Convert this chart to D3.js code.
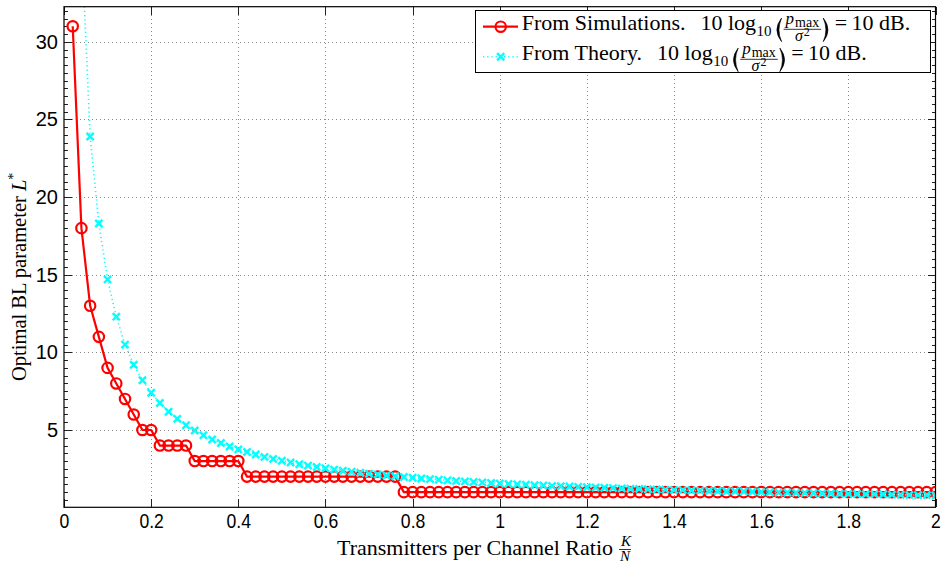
<!DOCTYPE html>
<html><head><meta charset="utf-8">
<script src="https://cdn.jsdelivr.net/npm/d3@7"></script>
<style>body{margin:0;background:#fff} svg{display:block}</style>
</head><body>
<script>
// ---------------- DATA ----------------
const kOverN = [
0.02,0.04,0.06,0.08,0.10,0.12,0.14,0.16,0.18,0.20,
0.22,0.24,0.26,0.28,0.30,0.32,0.34,0.36,0.38,0.40,
0.42,0.44,0.46,0.48,0.50,0.52,0.54,0.56,0.58,0.60,
0.62,0.64,0.66,0.68,0.70,0.72,0.74,0.76,0.78,0.80,
0.82,0.84,0.86,0.88,0.90,0.92,0.94,0.96,0.98,1.00,
1.02,1.04,1.06,1.08,1.10,1.12,1.14,1.16,1.18,1.20,
1.22,1.24,1.26,1.28,1.30,1.32,1.34,1.36,1.38,1.40,
1.42,1.44,1.46,1.48,1.50,1.52,1.54,1.56,1.58,1.60,
1.62,1.64,1.66,1.68,1.70,1.72,1.74,1.76,1.78,1.80,
1.82,1.84,1.86,1.88,1.90,1.92,1.94,1.96,1.98,2.00];
const simL = [
31,18,13,11,9,8,7,6,5,5,
4,4,4,4,3,3,3,3,3,3,
2,2,2,2,2,2,2,2,2,2,
2,2,2,2,2,2,2,2,1,1,
1,1,1,1,1,1,1,1,1,1,
1,1,1,1,1,1,1,1,1,1,
1,1,1,1,1,1,1,1,1,1,
1,1,1,1,1,1,1,1,1,1,
1,1,1,1,1,1,1,1,1,1,
1,1,1,1,1,1,1,1,1,1];
const theoryL = [
73.1,36.6,23.9,18.3,14.7,12.3,10.5,9.2,8.2,7.4,
6.74,6.18,5.72,5.31,4.97,4.66,4.39,4.16,3.94,3.75,
3.58,3.42,3.27,3.14,3.02,2.91,2.80,2.71,2.62,2.53,
2.45,2.38,2.31,2.25,2.19,2.13,2.07,2.02,1.97,1.93,
1.88,1.84,1.80,1.76,1.72,1.69,1.65,1.62,1.59,1.56,
1.53,1.50,1.48,1.45,1.43,1.40,1.38,1.36,1.34,1.32,
1.30,1.28,1.26,1.24,1.22,1.21,1.19,1.17,1.16,1.14,
1.13,1.11,1.10,1.09,1.07,1.06,1.05,1.04,1.02,1.01,
0.99,0.98,0.97,0.96,0.95,0.93,0.92,0.91,0.90,0.89,
0.88,0.87,0.87,0.86,0.84,0.83,0.82,0.81,0.81,0.80];
const xTicks = [0,0.2,0.4,0.6,0.8,1,1.2,1.4,1.6,1.8,2];
const xTickLabels = ["0","0.2","0.4","0.6","0.8","1","1.2","1.4","1.6","1.8","2"];
const yTicks = [5,10,15,20,25,30];
const yTickLabels = ["5","10","15","20","25","30"];
const yMinorTicks = [0.5,1,1.5,2,2.5,3,3.5,4,4.5,5.5,6,6.5,7,7.5,8,8.5,9,9.5,10.5,11,11.5,12,12.5,13,13.5,14,14.5,15.5,16,16.5,17,17.5,18,18.5,19,19.5,20.5,21,21.5,22,22.5,23,23.5,24,24.5,25.5,26,26.5,27,27.5,28,28.5,29,29.5,30.5,31,31.5,32];
const legendLabels = ["From Simulations.", "From Theory."];
const xLabel = "Transmitters per Channel Ratio";
const yLabel = "Optimal BL parameter";

// ---------------- LAYOUT ----------------
const W = 942, H = 564;
const L = 64, R = 935.5, T = 6.7, B = 507.3;
const SERIF = "'Liberation Serif','Times New Roman',serif";
const SANS = "'Liberation Sans',Arial,Helvetica,sans-serif";
const RED = "#ff0000", CYAN = "#00ffff";

const svg = d3.select("body").append("svg").attr("width", W).attr("height", H);
svg.append("rect").attr("width", W).attr("height", H).attr("fill", "#fff");

const x = d3.scaleLinear().domain([0, 2]).range([L, R]);
const y = d3.scaleLinear().domain([0.023, 32.26]).range([B, T]);

// grid
const grid = svg.append("g").attr("stroke", "#8a8a8a").attr("stroke-width", 1)
  .attr("stroke-dasharray", "1,3").attr("shape-rendering", "crispEdges");
xTicks.slice(1, -1).forEach(v => grid.append("line")
  .attr("x1", Math.round(x(v)) + 0.5).attr("x2", Math.round(x(v)) + 0.5).attr("y1", T).attr("y2", B));
yTicks.forEach(v => grid.append("line")
  .attr("y1", Math.round(y(v)) + 0.5).attr("y2", Math.round(y(v)) + 0.5).attr("x1", L).attr("x2", R));

// axes via d3 axis generators (inward ticks)
const axG = svg.append("g").attr("font-family", SANS).attr("font-size", 20);
const xAxisB = d3.axisBottom(x).tickValues(xTicks).tickSize(-8).tickFormat((d, i) => xTickLabels[i]).tickPadding(7);
const xAxisT = d3.axisTop(x).tickValues(xTicks).tickSize(-8).tickFormat("");
const yAxisL = d3.axisLeft(y).tickValues(yTicks).tickSize(-8).tickFormat((d, i) => yTickLabels[i]).tickPadding(6);
const yAxisR = d3.axisRight(y).tickValues(yTicks).tickSize(-8).tickFormat("");
const yMinL = d3.axisLeft(y).tickValues(yMinorTicks).tickSize(-4).tickFormat("");
const yMinR = d3.axisRight(y).tickValues(yMinorTicks).tickSize(-4).tickFormat("");

function styleAxis(g) {
  g.select(".domain").remove();
  g.selectAll(".tick line").attr("stroke", "#222").attr("shape-rendering", "crispEdges");
  g.selectAll(".tick text").attr("fill", "#000").style("font-family", SANS).style("font-size", "20px");
}
axG.append("g").attr("transform", `translate(0,${B})`).call(xAxisB).call(styleAxis)
  .selectAll(".tick text").attr("transform", "scale(0.88,1)");
axG.append("g").attr("transform", `translate(0,${T})`).call(xAxisT).call(styleAxis);
axG.append("g").attr("transform", `translate(${L},0)`).call(yAxisL).call(styleAxis);
axG.append("g").attr("transform", `translate(${R},0)`).call(yAxisR).call(styleAxis);
axG.append("g").attr("transform", `translate(${L},0)`).call(yMinL).call(styleAxis);
axG.append("g").attr("transform", `translate(${R},0)`).call(yMinR).call(styleAxis);

// clip
svg.append("clipPath").attr("id", "clip").append("rect")
  .attr("x", L).attr("y", T).attr("width", R - L).attr("height", B - T);
const plot = svg.append("g").attr("clip-path", "url(#clip)");

const simData = kOverN.map((k, i) => [k, simL[i]]);
const thData = kOverN.map((k, i) => [k, theoryL[i]]);
const line = d3.line().x(d => x(d[0])).y(d => y(d[1]));

// simulations
plot.append("path").datum(simData).attr("d", line).attr("fill", "none")
  .attr("stroke", RED).attr("stroke-width", 2.2).attr("stroke-linejoin", "round");
plot.append("g").selectAll("circle").data(simData).join("circle")
  .attr("cx", d => x(d[0])).attr("cy", d => y(d[1])).attr("r", 5.2)
  .attr("fill", "none").attr("stroke", RED).attr("stroke-width", 2.2);

// theory
plot.append("path").datum(thData).attr("d", line).attr("fill", "none")
  .attr("stroke", CYAN).attr("stroke-width", 1.6).attr("stroke-dasharray", "1.2,3");
const xm = 3.6;
plot.append("g").selectAll("path").data(thData).join("path")
  .attr("d", d => { const cx = x(d[0]), cy = y(d[1]);
    return `M${cx - xm},${cy - xm}L${cx + xm},${cy + xm}M${cx - xm},${cy + xm}L${cx + xm},${cy - xm}`; })
  .attr("stroke", CYAN).attr("stroke-width", 2.4).attr("fill", "none");

// frame
svg.append("rect").attr("x", L).attr("y", T).attr("width", R - L).attr("height", B - T)
  .attr("fill", "none").attr("stroke", "#000").attr("stroke-width", 1.2);

// ---------------- LABELS ----------------
// x label
const xl = svg.append("g").attr("font-family", SERIF).attr("fill", "#000");
const xlt = xl.append("text").attr("x", 337).attr("y", 555).attr("font-size", 22).text(xLabel);
const xlw = xlt.node().getComputedTextLength();
const fx0 = 337 + xlw + 6;
const kT = xl.append("text").attr("y", 546).attr("font-size", 15).attr("font-style", "italic").text("K");
const nT = xl.append("text").attr("y", 561).attr("font-size", 15).attr("font-style", "italic").text("N");
const kw = kT.node().getComputedTextLength(), nw = nT.node().getComputedTextLength();
const fw = Math.max(kw, nw) + 2;
kT.attr("x", fx0 + (fw - kw) / 2 + 1);
nT.attr("x", fx0 + (fw - nw) / 2);
xl.append("line").attr("x1", fx0).attr("x2", fx0 + fw).attr("y1", 549.5).attr("y2", 549.5)
  .attr("stroke", "#000").attr("stroke-width", 0.8);

// y label
const yl = svg.append("text").attr("transform", "translate(26,381) rotate(-90)")
  .attr("font-family", SERIF).attr("font-size", 20.5).attr("fill", "#000");
yl.append("tspan").text(yLabel + " ");
yl.append("tspan").attr("font-style", "italic").text("L");
yl.append("tspan").attr("font-size", 14).attr("dy", -8).text("*");

// ---------------- LEGEND ----------------
const lg = svg.append("g");
lg.append("rect").attr("x", 475.5).attr("y", 10.5).attr("width", 455).attr("height", 62)
  .attr("fill", "#fff").attr("stroke", "#000").attr("stroke-width", 1);

function paren(g, px, base, left) {
  const top = base - 12, bot = base + 11.7, mid = (top + bot) / 2, w = 6.5;
  const d = left
    ? `M${px + w},${top} Q${px - 3},${mid} ${px + w},${bot} Q${px + 1.2},${mid} ${px + w},${top} Z`
    : `M${px},${top} Q${px + w + 3},${mid} ${px},${bot} Q${px + w - 1.2},${mid} ${px},${top} Z`;
  g.append("path").attr("d", d).attr("fill", "#000").attr("stroke", "#000").attr("stroke-width", 0.6)
    .attr("stroke-linejoin", "round");
  return w;
}

function mathExpr(g, x0, base) {
  let cx = x0;
  const lt = g.append("text").attr("x", cx).attr("y", base).attr("font-family", SERIF)
    .attr("font-size", 22).attr("fill", "#000");
  lt.append("tspan").text("10 log");
  lt.append("tspan").attr("font-size", 15).attr("dy", 6).attr("dx", 0.5).text("10");
  cx += lt.node().getComputedTextLength() + 4;
  cx += paren(g, cx, base, true) + 2;
  // fraction
  const f0 = cx;
  const num = g.append("text").attr("y", base - 6).attr("font-family", SERIF).attr("fill", "#000");
  num.append("tspan").attr("font-size", 17).attr("font-style", "italic").text("p");
  num.append("tspan").attr("font-size", 14).attr("dy", 3).attr("dx", 1).text("max");
  const den = g.append("text").attr("y", base + 11).attr("font-family", SERIF).attr("fill", "#000");
  den.append("tspan").attr("font-size", 16).attr("font-style", "italic").text("σ");
  den.append("tspan").attr("font-size", 12).attr("dy", -5.5).attr("dx", 1).text("2");
  const numW = num.node().getComputedTextLength() + 1, denW = den.node().getComputedTextLength() + 1;
  const fW = Math.max(numW, denW) + 4;
  num.attr("x", f0 + (fW - numW) / 2);
  den.attr("x", f0 + (fW - denW) / 2);
  g.append("line").attr("x1", f0).attr("x2", f0 + fW).attr("y1", base - 0.7).attr("y2", base - 0.7)
    .attr("stroke", "#000").attr("stroke-width", 0.8);
  cx = f0 + fW + 2;
  cx += paren(g, cx, base, false) + 5;
  g.append("text").attr("x", cx).attr("y", base).attr("font-family", SERIF)
    .attr("font-size", 22).attr("fill", "#000").text("=\u200910 dB.");
}

const rows = [
  { base: 30, cy: 26.7, label: legendLabels[0], kind: "sim" },
  { base: 60, cy: 56.7, label: legendLabels[1], kind: "th" }
];
rows.forEach(r => {
  if (r.kind === "sim") {
    lg.append("line").attr("x1", 483).attr("x2", 518).attr("y1", r.cy).attr("y2", r.cy)
      .attr("stroke", RED).attr("stroke-width", 2.2);
    lg.append("circle").attr("cx", 500.7).attr("cy", r.cy).attr("r", 5.2)
      .attr("fill", "none").attr("stroke", RED).attr("stroke-width", 2.2);
  } else {
    lg.append("line").attr("x1", 483).attr("x2", 518).attr("y1", r.cy).attr("y2", r.cy)
      .attr("stroke", CYAN).attr("stroke-width", 1.6).attr("stroke-dasharray", "1.2,3");
    lg.append("path").attr("d", `M${500.7 - xm},${r.cy - xm}L${500.7 + xm},${r.cy + xm}M${500.7 - xm},${r.cy + xm}L${500.7 + xm},${r.cy - xm}`)
      .attr("stroke", CYAN).attr("stroke-width", 2.4);
  }
  const t = lg.append("text").attr("x", 521.7).attr("y", r.base).attr("font-family", SERIF)
    .attr("font-size", 22).attr("fill", "#000").text(r.label);
  const w = t.node().getComputedTextLength();
  mathExpr(lg, 521.7 + w + 15, r.base);
});
</script>
</body></html>
